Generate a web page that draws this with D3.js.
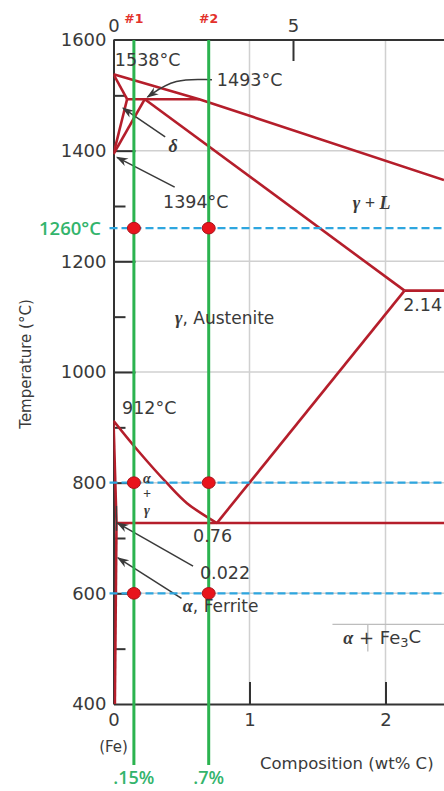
<!DOCTYPE html>
<html>
<head>
<meta charset="utf-8">
<script src="https://cdn.jsdelivr.net/npm/d3@7"></script>
<style>
  html, body { margin: 0; padding: 0; background: #fff; }
  svg { display: block; }
  text { font-family: "DejaVu Sans", sans-serif; fill: #3a3a3a; }
</style>
</head>
<body>
<svg id="chart" width="444" height="791"></svg>
<script>
// ---- axis ticks ----
const tempTickLabels = [400, 600, 800, 1000, 1200, 1400, 1600];
const tempMajorTicks = [600, 800, 1000, 1200, 1400];
const tempMinorTicks = [500, 700, 900, 1100, 1300, 1500];
const compTicks = [0, 1, 2];
const atomicTicks = [0, 5];
const compGrid = [1, 2];
const tempGrid = [600, 800, 1000, 1200, 1400];

// ---- phase boundaries: [wt% C, °C] ----
const liquidus = [[0, 1538], [0.63, 1493], [2.43, 1347]];
const deltaSolidus = [[0, 1538], [0.10, 1493]];
const peritectic = [[0.10, 1493], [0.63, 1493]];
const deltaBoundary = [[0, 1394], [0.10, 1493]];
const gammaBoundary = [[0, 1394], [0.23, 1493]];
const gammaSolidus = [[0.23, 1493], [2.14, 1147]];
const eutectic = [[2.14, 1147], [2.5, 1147]];
const acmLine = [[2.14, 1147], [0.76, 727]];
const a3Line = [[0, 912], [0.19, 855], [0.39, 800], [0.54, 763], [0.76, 727]];
const alphaBoundary = [[0, 912], [0.022, 727]];
const eutectoid = [[0.022, 727], [2.5, 727]];
const alphaSolvus = [[0.022, 727], [0.01, 400]];
const phaseLines = [liquidus, deltaSolidus, peritectic, deltaBoundary, gammaBoundary,
  gammaSolidus, eutectic, acmLine, alphaBoundary, eutectoid, alphaSolvus];

// ---- alloys and temperatures examined ----
const alloyComps = [0.15, 0.7];
const alloyNames = ["#1", "#2"];
const alloyLabels = [".15%", ".7%"];
const examinedTemps = [1260, 800, 600];

// ---- annotation arrows: [wt% C, °C] from -> to ----
const arrow1493 = [[0.724, 1528], [0.45, 1531], [0.25, 1497]];
const arrowDelta = [[0.38, 1425], [0.07, 1477]];
const arrow1394 = [[0.45, 1334], [0.026, 1388]];
const arrow0022 = [[0.585, 649], [0.03, 727]];
const arrowFerrite = [[0.50, 591], [0.033, 664]];

const W = 444, H = 791;
const svg = d3.select("#chart");

const x = d3.scaleLinear().domain([0, 1]).range([113.5, 249.5]);
x.domain([0, x.invert(W)]).range([113.5, W]);
const y = d3.scaleLinear().domain([400, 1600]).range([704, 40]);
const xTop = d3.scaleLinear().domain([0, 5]).range([113.5, 293]);

const RED = "#b51e2b";
const GREEN = "#2bb34f";
const LABEL_GREEN = "#33b46c";
const BLUE = "#2ea6df";
const GRID = "#d0d0d0";
const AXIS = "#333";

svg.append("defs").append("marker")
  .attr("id", "head").attr("viewBox", "0 0 10 10")
  .attr("refX", 9).attr("refY", 5)
  .attr("markerWidth", 8).attr("markerHeight", 8)
  .attr("orient", "auto")
  .append("path").attr("d", "M0,1.5 L10,5 L0,8.5 L3,5 Z").attr("fill", "#3a3a3a");

svg.select("defs").append("clipPath").attr("id", "plot")
  .append("rect").attr("x", x(0)).attr("y", y(1600)).attr("width", W - x(0)).attr("height", y(400) - y(1600));

// grid
const grid = svg.append("g");
grid.selectAll("line.v").data(compGrid).join("line")
  .attr("x1", d => x(d)).attr("x2", d => x(d))
  .attr("y1", y(1600)).attr("y2", y(400))
  .attr("stroke", GRID).attr("stroke-width", 1.5);
grid.selectAll("line.h").data(tempGrid).join("line")
  .attr("x1", x(0)).attr("x2", W)
  .attr("y1", d => y(d)).attr("y2", d => y(d))
  .attr("stroke", GRID).attr("stroke-width", 1.5);

// axes
const styleAxis = g => {
  g.selectAll(".domain").attr("stroke", AXIS).attr("stroke-width", 2);
  g.selectAll(".tick line").attr("stroke", AXIS).attr("stroke-width", 2);
  g.selectAll(".tick text").attr("fill", "#3a3a3a")
    .style("font-family", "DejaVu Sans, sans-serif").style("font-size", "18px");
};

svg.append("g").attr("transform", `translate(${x(0)},0)`)
  .call(d3.axisLeft(y).tickValues(tempTickLabels).tickSizeInner(-22).tickSizeOuter(0)
    .tickPadding(7).tickFormat(d3.format("d")))
  .call(g => g.selectAll(".tick").filter(d => !tempMajorTicks.includes(d)).select("line").remove())
  .call(styleAxis);

svg.append("g").attr("transform", `translate(${x(0)},0)`)
  .call(d3.axisLeft(y).tickValues(tempMinorTicks).tickSizeInner(-12).tickSizeOuter(0).tickFormat(""))
  .call(g => g.select(".domain").remove())
  .call(styleAxis);

svg.append("g").attr("transform", `translate(0,${y(400)})`)
  .call(d3.axisBottom(x).tickValues(compTicks).tickSizeInner(-22).tickSizeOuter(0)
    .tickPadding(9).tickFormat(d3.format("d")))
  .call(styleAxis);

svg.append("g").attr("transform", `translate(0,${y(1600)})`)
  .call(d3.axisTop(xTop).tickValues(atomicTicks).tickSizeInner(-21).tickSizeOuter(0)
    .tickPadding(8).tickFormat(d3.format("d")))
  .call(g => g.select(".domain").remove())
  .call(styleAxis);

svg.append("line")
  .attr("x1", x(0)).attr("x2", W).attr("y1", y(1600)).attr("y2", y(1600))
  .attr("stroke", AXIS).attr("stroke-width", 2);

// phase boundaries
const line = d3.line().x(d => x(d[0])).y(d => y(d[1]));
const plot = svg.append("g").attr("clip-path", "url(#plot)");
plot.selectAll("path.phase").data(phaseLines).join("path")
  .attr("d", line).attr("fill", "none")
  .attr("stroke", RED).attr("stroke-width", 2.6).attr("stroke-linejoin", "round");
plot.append("path")
  .attr("d", d3.line().curve(d3.curveCatmullRom).x(d => x(d[0])).y(d => y(d[1]))(a3Line))
  .attr("fill", "none").attr("stroke", RED).attr("stroke-width", 2.6);

// marker at the maximum ferrite solubility
svg.append("line")
  .attr("x1", x(0.022)).attr("x2", x(0.022))
  .attr("y1", y(758)).attr("y2", y(713))
  .attr("stroke", "#3a3a3a").attr("stroke-width", 1.3);

// region divider under the ferrite + cementite field
svg.append("line").attr("x1", x(1.61)).attr("x2", W).attr("y1", y(544)).attr("y2", y(544))
  .attr("stroke", "#bdbdbd").attr("stroke-width", 1.3);
svg.append("line").attr("x1", x(1.87)).attr("x2", x(1.87)).attr("y1", y(544)).attr("y2", y(495))
  .attr("stroke", "#bdbdbd").attr("stroke-width", 1.3);

// arrows
const arrowLine = d3.line().curve(d3.curveBasis).x(d => x(d[0])).y(d => y(d[1]));
svg.selectAll("path.arrow")
  .data([arrow1493, arrowDelta, arrow1394, arrow0022, arrowFerrite]).join("path")
  .attr("d", arrowLine).attr("fill", "none")
  .attr("stroke", "#3a3a3a").attr("stroke-width", 1.5)
  .attr("marker-end", "url(#head)");

// examined temperatures
svg.selectAll("line.temp").data(examinedTemps).join("line")
  .attr("x1", x(0) - 4).attr("x2", W)
  .attr("y1", d => y(d)).attr("y2", d => y(d))
  .attr("stroke", BLUE).attr("stroke-width", 2.2).attr("stroke-dasharray", "8,4");

// alloy composition lines
svg.selectAll("line.alloy").data(alloyComps).join("line")
  .attr("x1", d => x(d)).attr("x2", d => x(d))
  .attr("y1", y(1600)).attr("y2", 765)
  .attr("stroke", GREEN).attr("stroke-width", 3);

// intersection points
const points = alloyComps.flatMap(c => examinedTemps.map(t => [c, t]));
svg.selectAll("ellipse.pt").data(points).join("ellipse")
  .attr("cx", d => x(d[0])).attr("cy", d => y(d[1]))
  .attr("rx", 6.5).attr("ry", 5.8)
  .attr("fill", "#e8141c").attr("stroke", "#a8141c").attr("stroke-width", 1);

// alloy labels
svg.selectAll("text.name").data(alloyComps).join("text")
  .attr("x", d => x(d)).attr("y", 23).attr("text-anchor", "middle")
  .style("font-size", "12.5px").style("font-weight", "bold").style("fill", "#e3312b")
  .text((d, i) => alloyNames[i]);
svg.selectAll("text.pct").data(alloyComps).join("text")
  .attr("x", d => x(d)).attr("y", 784).attr("text-anchor", "middle")
  .style("font-family", "Open Sans, sans-serif").style("font-size", "18px")
  .style("font-weight", "600").style("fill", LABEL_GREEN)
  .text((d, i) => alloyLabels[i]);

svg.append("text")
  .attr("x", 101).attr("y", y(examinedTemps[0])).attr("dy", "0.36em").attr("text-anchor", "end")
  .style("font-family", "Open Sans, sans-serif").style("font-size", "18.5px")
  .style("font-weight", "600").style("fill", LABEL_GREEN)
  .text(examinedTemps[0] + "°C");

// axis titles
svg.append("text")
  .attr("transform", `translate(31,${364}) rotate(-90)`).attr("text-anchor", "middle")
  .style("font-size", "15px").text("Temperature (°C)");
svg.append("text")
  .attr("x", 260).attr("y", 769)
  .style("font-size", "16.5px").text("Composition (wt% C)");
svg.append("text")
  .attr("x", x(0)).attr("y", 752).attr("text-anchor", "middle")
  .style("font-size", "15px").text("(Fe)");

// annotations placed in composition / temperature space
const plainNotes = [
  { text: "1538°C", c: 0.01, t: 1564 },
  { text: "1493°C", c: 0.76, t: 1528 },
  { text: "1394°C", c: 0.364, t: 1307 },
  { text: "2.14", c: 2.13, t: 1121 },
  { text: "912°C", c: 0.0625, t: 935 },
  { text: "0.76", c: 0.585, t: 705 },
  { text: "0.022", c: 0.636, t: 637 }
];
svg.selectAll("text.note").data(plainNotes).join("text")
  .attr("x", d => x(d.c)).attr("y", d => y(d.t)).attr("dy", "0.36em")
  .style("font-size", "17.5px").text(d => d.text);

const greek = s => s.style("font-family", "Liberation Serif, serif")
  .style("font-weight", "bold").style("font-style", "italic");

svg.append("text").attr("x", x(0.4375)).attr("y", y(1410)).attr("dy", "0.36em")
  .attr("text-anchor", "middle").call(greek).style("font-size", "18px").text("δ");

svg.append("text").attr("x", x(1.76)).attr("y", y(1307)).attr("dy", "0.36em")
  .call(greek).style("font-size", "18px").text("γ + L");

const aus = svg.append("text").attr("x", x(0.452)).attr("y", y(1097)).attr("dy", "0.36em")
  .style("font-size", "17px");
aus.append("tspan").call(greek).style("font-size", "18px").text("γ");
aus.append("tspan").text(", Austenite");

const fer = svg.append("text").attr("x", x(0.51)).attr("y", y(577)).attr("dy", "0.36em")
  .style("font-size", "17px");
fer.append("tspan").call(greek).style("font-size", "18px").text("α");
fer.append("tspan").text(", Ferrite");

const cem = svg.append("text").attr("x", x(1.69)).attr("y", y(521)).attr("dy", "0.36em")
  .style("font-size", "18px");
cem.append("tspan").call(greek).text("α");
cem.append("tspan").text(" + Fe");
cem.append("tspan").attr("dy", "0.3em").style("font-size", "13px").text("3");
cem.append("tspan").attr("dy", "-0.23em").text("C");

const stack = [{ s: "α", t: 808 }, { s: "+", t: 781 }, { s: "γ", t: 751 }];
svg.selectAll("text.stack").data(stack).join("text")
  .attr("x", x(0.246)).attr("y", d => y(d.t)).attr("dy", "0.36em").attr("text-anchor", "middle")
  .call(greek).style("font-size", "14px").style("fill", "#3a3a3a").text(d => d.s);
</script>
</body>
</html>
